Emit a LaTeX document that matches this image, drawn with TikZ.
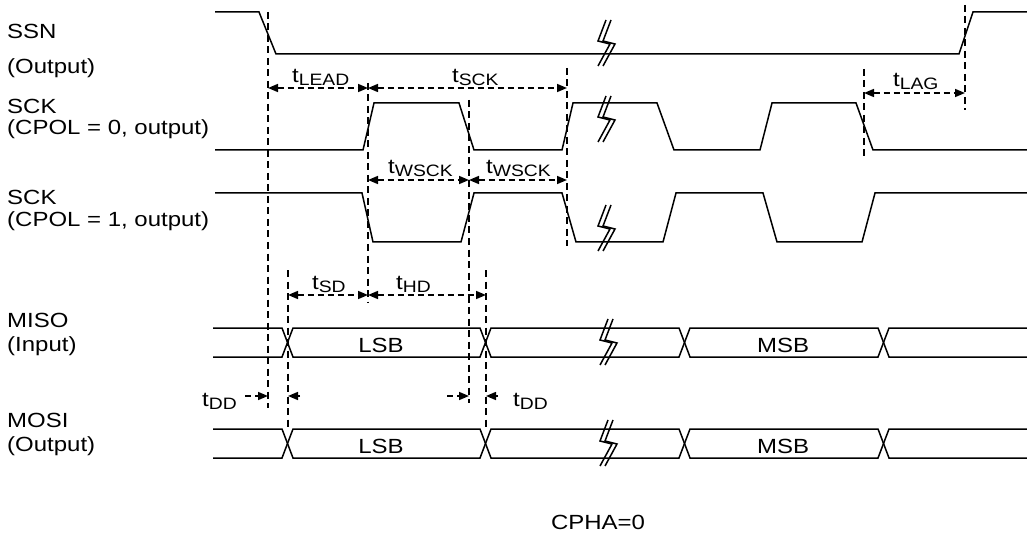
\documentclass[tikz,border=0pt]{standalone}
\usepackage{fontspec}
\setmainfont{Liberation Sans}
\usetikzlibrary{arrows.meta}
\newcommand\W[1]{\scalebox{1.17}[1]{#1}}
\newcommand\tlab[1]{\W{t\raisebox{-3pt}{\fontsize{16.5}{16.5}\selectfont #1}}}
\newcommand\drawbus[2]{%
  \draw[sig] (213,#1) -- (282,#1) -- (293,#2) -- (480,#2) -- (491,#1) -- (679,#1) -- (690,#2) -- (878,#2) -- (889,#1) -- (1027,#1);
  \draw[sig] (213,#2) -- (282,#2) -- (293,#1) -- (480,#1) -- (491,#2) -- (679,#2) -- (690,#1) -- (878,#1) -- (889,#2) -- (1027,#2);}
\tikzset{
  sig/.style={line width=1.5pt, line join=miter},
  guide/.style={line width=1.5pt, dash pattern=on 7pt off 4.5pt},
  dim/.style={line width=1.5pt, dash pattern=on 6pt off 4pt, {Triangle[length=10pt,width=8pt]}-{Triangle[length=10pt,width=8pt]}},
  dimr/.style={line width=1.5pt, dash pattern=on 6pt off 4pt, -{Triangle[length=10pt,width=8pt]}},
  txt/.style={inner sep=0pt, font=\fontsize{20.5}{24}\selectfont},
  brk/.pic={
    \draw[line width=1.5pt] (-1,-23) -- (-9,-2) -- (3,1) -- (-9,23);
    \draw[line width=1.5pt] (4,-23) -- (-4,-2) -- (8,1) -- (-4,23);
  }
}
\begin{document}
\begin{tikzpicture}[x=1pt,y=-1pt]
\useasboundingbox (0,0) rectangle (1027,537);
% left labels
\node[txt, anchor=base west] (l1) at (7,39) {\W{SSN}};
\node[txt, anchor=base west] (l2) at (7,74) {\W{(Output)}};
\node[txt, anchor=base west] (l3) at (7,114) {\W{SCK}};
\node[txt, anchor=base west] (l4) at (7,135) {\W{(CPOL = 0, output)}};
\node[txt, anchor=base west] (l5) at (7,205) {\W{SCK}};
\node[txt, anchor=base west] (l6) at (7,226) {\W{(CPOL = 1, output)}};
\node[txt, anchor=base west] (l7) at (7,327) {\W{MISO}};
\node[txt, anchor=base west] (l8) at (7,351) {\W{(Input)}};
\node[txt, anchor=base west] (l9) at (7,427) {\W{MOSI}};
\node[txt, anchor=base west] (l10) at (7,451) {\W{(Output)}};
\node[txt] (cpha) at (598,522) {\W{CPHA=0}};
% signals
\draw[sig] (215,12) -- (259,12) -- (276,54) -- (959,54) -- (973,12) -- (1027,12);
\draw[sig] (215,150) -- (363,150) -- (374,103) -- (459,103) -- (474,150) -- (562,150) -- (573,103) -- (657,103) -- (674,150) -- (760,150) -- (772,103) -- (856,103) -- (873,150) -- (1027,150);
\draw[sig] (215,193) -- (362,193) -- (373,242) -- (461,242) -- (474,193) -- (562,193) -- (576,242) -- (663,242) -- (676,193) -- (763,193) -- (777,242) -- (862,242) -- (875,193) -- (1027,193);
\drawbus{328}{357}
\drawbus{429}{458}
\node[txt] (lsb1) at (381,345) {\W{LSB}};
\node[txt] (msb1) at (783,345) {\W{MSB}};
\node[txt] (lsb2) at (381,446) {\W{LSB}};
\node[txt] (msb2) at (783,446) {\W{MSB}};
% breaks
\pic at (607,43) {brk};
\pic at (607,119) {brk};
\pic at (607,228) {brk};
\pic at (609,342) {brk};
\pic at (609,443) {brk};
% guide lines
\coordinate (g1t) at (268,12);  \coordinate (g1b) at (268,408);
\coordinate (g2t) at (368,83);  \coordinate (g2b) at (368,303);
\coordinate (g3t) at (469,100); \coordinate (g3b) at (469,403);
\coordinate (g4t) at (567,68);  \coordinate (g4b) at (567,246);
\coordinate (g5t) at (864,69);  \coordinate (g5b) at (864,156);
\coordinate (g6t) at (965,5);   \coordinate (g6b) at (965,110);
\coordinate (g7t) at (288,270); \coordinate (g7b) at (288,430);
\coordinate (g8t) at (486,270); \coordinate (g8b) at (486,430);
\foreach \g in {1,...,8} \draw[guide] (g\g t) -- (g\g b);
% dimension arrows
\draw[dim] (268,88) -- (368,88);
\draw[dim] (368,88) -- (567,88);
\draw[dim] (864,93) -- (965,93);
\draw[dim] (368,180) -- (469,180);
\draw[dim] (469,180) -- (567,180);
\draw[dim] (288,295) -- (368,295);
\draw[dim] (368,295) -- (486,295);
\draw[dimr] (245,396) -- (268,396);
\draw[dimr] (300,396) -- (288,396);
\draw[dimr] (447,396) -- (469,396);
\draw[dimr] (498,396) -- (486,396);
% timing labels
\node[txt, anchor=base west] (tlead) at (292,83) {\tlab{LEAD}};
\node[txt, anchor=base west] (tsck) at (452,83) {\tlab{SCK}};
\node[txt, anchor=base west] (tlag) at (893,87) {\tlab{LAG}};
\node[txt, anchor=base west] (tw1) at (388,174) {\tlab{WSCK}};
\node[txt, anchor=base west] (tw2) at (486,174) {\tlab{WSCK}};
\node[txt, anchor=base west] (tsd) at (312,289) {\tlab{SD}};
\node[txt, anchor=base west] (thd) at (396,289) {\tlab{HD}};
\node[txt, anchor=base west] (tdd1) at (202,406) {\tlab{DD}};
\node[txt, anchor=base west] (tdd2) at (513,406) {\tlab{DD}};
\end{tikzpicture}
\end{document}
